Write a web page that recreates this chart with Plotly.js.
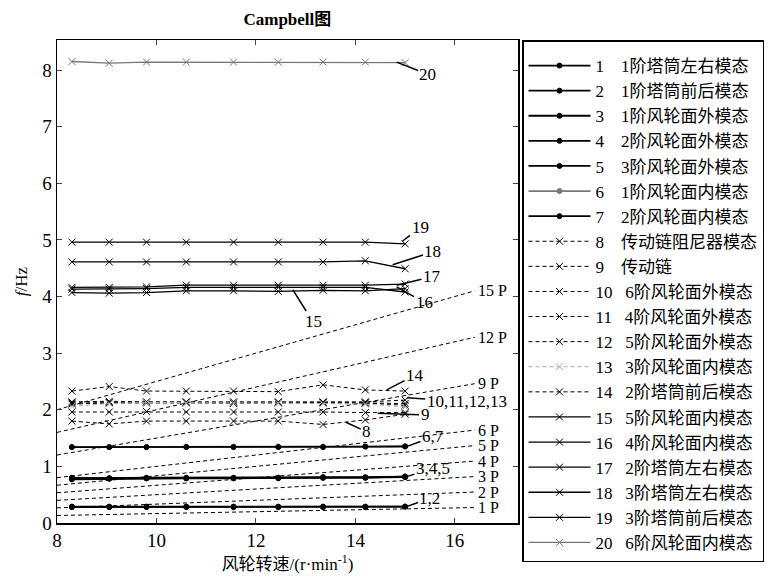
<!DOCTYPE html>
<html>
<head>
<meta charset="utf-8">
<script src="https://cdn.plot.ly/plotly-3.0.1.min.js"></script>
<style>body{margin:0;padding:0;background:#fff;}#chart{width:783px;height:580px;}</style>
</head>
<body>
<div id="chart"></div>
<script>
// Rotor speed samples (r/min)
const rpm = [8.3, 9.05, 9.8, 10.6, 11.55, 12.45, 13.35, 14.2, 15.0];

// Legend names
const modeNames = [
  "1\u2002\u20021阶塔筒左右模态", "2\u2002\u20021阶塔筒前后模态", "3\u2002\u20021阶风轮面外模态", "4\u2002\u20022阶风轮面外模态",
  "5\u2002\u20023阶风轮面外模态", "6\u2002\u20021阶风轮面内模态", "7\u2002\u20022阶风轮面内模态", "8\u2002\u2002传动链阻尼器模态",
  "9\u2002\u2002传动链", "10\u2002 6阶风轮面外模态", "11\u2002 4阶风轮面外模态", "12\u2002 5阶风轮面外模态",
  "13\u2002 3阶风轮面内模态", "14\u2002 2阶塔筒前后模态", "15\u2002 5阶风轮面内模态", "16\u2002 4阶风轮面内模态",
  "17\u2002 2阶塔筒左右模态", "18\u2002 3阶塔筒左右模态", "19\u2002 3阶塔筒前后模态", "20\u2002 6阶风轮面内模态"
];

// Mode frequencies (Hz)
const m1  = [0.29, 0.29, 0.29, 0.29, 0.29, 0.29, 0.29, 0.29, 0.29];
const m2  = [0.28, 0.28, 0.28, 0.28, 0.28, 0.28, 0.28, 0.28, 0.29];
const m3  = [0.77, 0.78, 0.79, 0.79, 0.79, 0.80, 0.80, 0.80, 0.82];
const m4  = [0.79, 0.79, 0.79, 0.79, 0.79, 0.79, 0.80, 0.80, 0.81];
const m5  = [0.80, 0.79, 0.80, 0.80, 0.80, 0.80, 0.81, 0.81, 0.82];
const m6  = [1.34, 1.34, 1.34, 1.35, 1.35, 1.35, 1.35, 1.35, 1.36];
const m7  = [1.34, 1.34, 1.34, 1.34, 1.34, 1.34, 1.34, 1.35, 1.35];
const m8  = [1.80, 1.75, 1.80, 1.80, 1.80, 1.80, 1.74, 1.82, 1.92];
const m9  = [1.96, 1.96, 1.97, 1.96, 1.96, 1.96, 1.96, 1.95, 1.95];
const m10 = [2.14, 2.15, 2.14, 2.14, 2.14, 2.14, 2.14, 2.14, 2.17];
const m11 = [2.12, 2.13, 2.13, 2.13, 2.12, 2.13, 2.13, 2.12, 2.11];
const m12 = [2.10, 2.12, 2.12, 2.12, 2.11, 2.12, 2.12, 2.12, 2.08];
const m13 = [2.06, 2.11, 2.13, 2.12, 2.12, 2.12, 2.11, 2.10, 2.05];
const m14 = [2.33, 2.41, 2.33, 2.33, 2.33, 2.32, 2.44, 2.35, 2.33];
const m15 = [4.07, 4.06, 4.07, 4.10, 4.10, 4.09, 4.11, 4.10, 4.14];
const m16 = [4.13, 4.13, 4.14, 4.16, 4.16, 4.16, 4.16, 4.16, 4.08];
const m17 = [4.16, 4.16, 4.17, 4.20, 4.20, 4.20, 4.20, 4.20, 4.22];
const m18 = [4.61, 4.61, 4.61, 4.61, 4.61, 4.61, 4.61, 4.63, 4.49];
const m19 = [4.96, 4.96, 4.96, 4.96, 4.96, 4.96, 4.96, 4.96, 4.93];
const m20 = [8.15, 8.12, 8.14, 8.14, 8.14, 8.14, 8.14, 8.14, 8.13];

// Rotor harmonic excitation lines: endpoints (r/min) and frequencies (Hz)
const harmX = [8, 16.4];
const harmLabels = ["1 P", "2 P", "3 P", "4 P", "5 P", "6 P", "9 P", "12 P", "15 P"];
const harmY = [
  [0.133, 0.273], [0.267, 0.547], [0.400, 0.820], [0.533, 1.093], [0.667, 1.367],
  [0.800, 1.640], [1.200, 2.460], [1.600, 3.280], [2.000, 4.100]
];

// Mode label annotations: [text, pointX, pointY, textX, textY]
const modeLabels = [
  ["20", 14.83, 8.14, 15.46, 7.92],
  ["19", 14.95, 4.98, 15.30, 5.21],
  ["18", 14.75, 4.56, 15.56, 4.79],
  ["17", 14.83, 4.20, 15.54, 4.35],
  ["16", 14.83, 4.17, 15.38, 3.90],
  ["15", 12.74, 4.12, 13.15, 3.55],
  ["14", 14.63, 2.35, 15.20, 2.61],
  ["10,11,12,13", 15.04, 2.21, 16.24, 2.14],
  ["9", 14.45, 1.94, 15.40, 1.91],
  ["8", 13.81, 1.78, 14.23, 1.61],
  ["6,7", 15.0, 1.34, 15.56, 1.52],
  ["3,4,5", 15.0, 0.81, 15.56, 0.97],
  ["1,2", 15.0, 0.28, 15.50, 0.44]
];

const modes = [m1,m2,m3,m4,m5,m6,m7,m8,m9,m10,m11,m12,m13,m14,m15,m16,m17,m18,m19,m20];
const SERIF = "Liberation Serif, Times New Roman, Noto Sans CJK SC, serif";

const traces = [];
harmY.forEach((hy) => {
  traces.push({
    x: harmX, y: hy, mode: 'lines', showlegend: false, hoverinfo: 'skip',
    line: {color: '#000', width: 1, dash: '4px,3px'}
  });
});

modes.forEach((m, i) => {
  const n = i + 1;
  let color = '#000', dash = 'solid', symbol = 'x-thin-open', msize = 7, lw = 1.3;
  if (n <= 7) { symbol = 'circle'; msize = 5; lw = 1.8; }
  if (n >= 8 && n <= 14) { dash = '4px,3px'; lw = 1; }
  if (n === 6 || n === 20) color = '#777';
  if (n === 13) color = '#aaa';
  traces.push({
    x: rpm, y: m, name: modeNames[i], mode: 'lines+markers',
    line: {color: color, width: lw, dash: dash},
    marker: {symbol: symbol, size: msize, color: color, line: {color: color, width: 1}}
  });
});

const annotations = [];
harmLabels.forEach((t, i) => {
  annotations.push({
    x: harmX[1] + 0.03, y: harmY[i][1], xref: 'x', yref: 'y', text: t,
    showarrow: false, xanchor: 'left', yanchor: 'middle',
    font: {family: SERIF, size: 16, color: '#000'}
  });
});
modeLabels.forEach((a) => {
  annotations.push({
    x: a[1], y: a[2], ax: a[3], ay: a[4], axref: 'x', ayref: 'y', xref: 'x', yref: 'y',
    text: a[0], showarrow: true, arrowhead: 0, arrowwidth: 1.5, arrowcolor: '#000',
    standoff: 0, startstandoff: 0,
    font: {family: SERIF, size: 17, color: '#000'}
  });
});

const layout = {
  width: 783, height: 580,
  margin: {l: 57, r: 265, t: 40, b: 57, autoexpand: false},
  paper_bgcolor: '#fff', plot_bgcolor: '#fff',
  font: {family: SERIF, color: '#000', size: 17},
  title: {text: '<b>Campbell图</b>', x: 0.367, xanchor: 'center', y: 0.968, yanchor: 'middle',
          font: {family: SERIF, size: 17, color: '#000'}},
  xaxis: {
    range: [8, 17.27], tickvals: [8, 10, 12, 14, 16], ticks: 'inside', ticklen: 5,
    showline: true, mirror: 'ticks', linecolor: '#000', linewidth: 1.5, showgrid: false, zeroline: false,
    tickfont: {family: SERIF, size: 19},
    title: {text: '风轮转速/(r·min<sup>-1</sup>)', standoff: 8, font: {family: SERIF, size: 17}}
  },
  yaxis: {
    range: [0, 8.53], tickvals: [0, 1, 2, 3, 4, 5, 6, 7, 8], ticks: 'inside', ticklen: 5,
    showline: true, mirror: 'ticks', linecolor: '#000', linewidth: 1.5, showgrid: false, zeroline: false,
    tickfont: {family: SERIF, size: 19},
    title: {text: '<i>f</i>/Hz', standoff: 10, font: {family: SERIF, size: 17}}
  },
  legend: {
    x: 1.0087, xanchor: 'left', y: 1, yanchor: 'top',
    bgcolor: '#fff', bordercolor: '#000', borderwidth: 1.5,
    font: {family: SERIF, size: 17, color: '#000'},
    title: {text: ' ', font: {size: 5}},
    itemwidth: 62, tracegroupgap: 0, maxheight: 600
  },
  annotations: annotations,
  showlegend: true
};

Plotly.newPlot('chart', traces, layout, {staticPlot: true, displayModeBar: false});
</script>
</body>
</html>
